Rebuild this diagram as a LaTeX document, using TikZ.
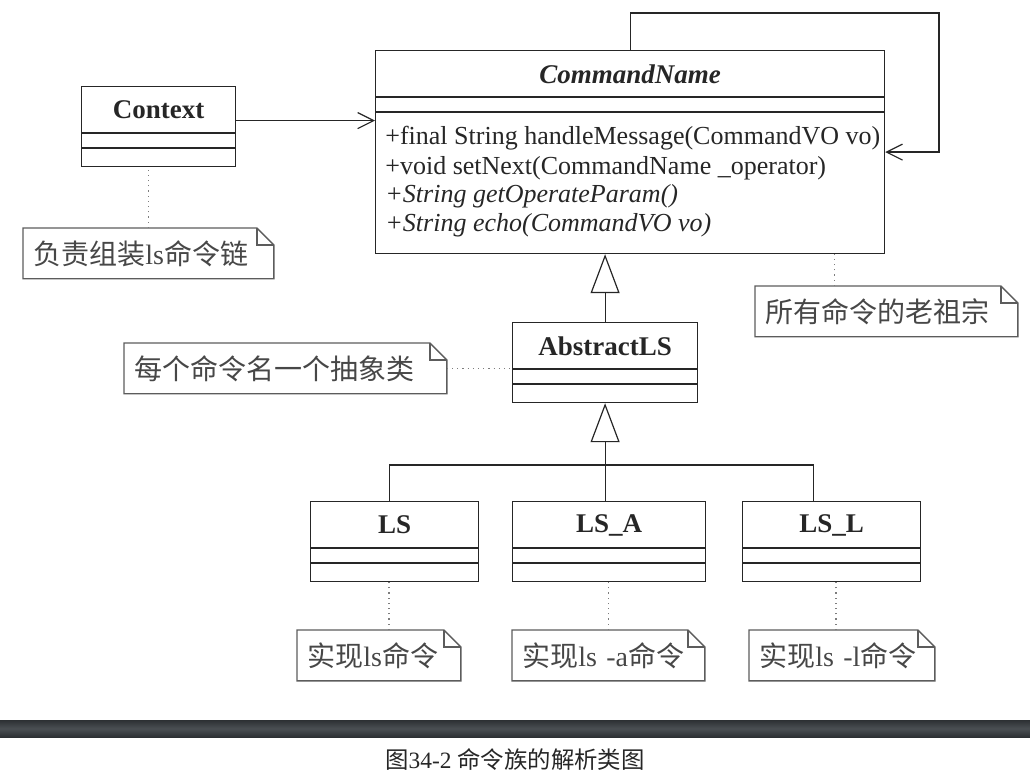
\documentclass[tikz,border=0pt]{standalone}
\usepackage{fontspec}
\setmainfont{Liberation Serif}
\newfontfamily\cjk{Noto Sans CJK SC}
\usetikzlibrary{arrows.meta}

\definecolor{ink}{HTML}{262626}
\definecolor{bandA}{HTML}{2C3033}
\definecolor{bandB}{HTML}{4A4F53}

% two empty compartments under the class name
\newcommand{\compart}[1]{%
  \draw[ink, line width=0.6pt] ([yshift=-23.5pt]#1.north west) -- ([yshift=-23.5pt]#1.north east);
  \draw[ink, line width=0.6pt] ([yshift=-31pt]#1.north west) -- ([yshift=-31pt]#1.north east);}

% note outline with folded corner
\newcommand{\dogear}[1]{%
  \draw[notebox] (#1.north west) -- ([xshift=-8.5pt]#1.north east) -- ([yshift=-8.5pt]#1.north east)
    -- (#1.south east) -- (#1.south west) -- cycle;
  \draw[notebox] ([xshift=-8.5pt]#1.north east) |- ([yshift=-8.5pt]#1.north east);}

\begin{document}
\begin{tikzpicture}[x=0.5pt, y=-0.5pt,
  cls/.style={draw=ink, line width=0.6pt, rectangle, inner sep=0pt, anchor=north west},
  ctitle/.style={font=\fontsize{13.5}{16}\selectfont\bfseries, text=ink},
  meth/.style={font=\fontsize{13}{15}\selectfont, text=ink, anchor=base west, inner sep=0pt},
  note/.style={anchor=north west, inner ysep=0pt, inner xsep=5pt, minimum height=25pt,
    align=left, font=\fontsize{14}{16}\cjk, text=ink!85},
  notebox/.style={draw=ink!75, line width=0.7pt},
  noteline/.style={draw=ink!60, dotted, line width=0.6pt},
  assoc/.style={draw=ink, line width=0.6pt, -{Straight Barb[length=8pt, width=8pt]}},
  gen/.style={draw=ink, line width=0.6pt, -{Triangle[open, length=19.5pt, width=14.5pt]}}]

  \useasboundingbox (0,0) rectangle (1030,781);

  % classes
  \node[cls, minimum width=77pt, minimum height=40pt] (ctx) at (81,86) {};
  \node[cls, minimum width=254.5pt, minimum height=101.5pt] (cmd) at (375,50) {};
  \node[cls, minimum width=92.5pt, minimum height=40pt] (abs) at (512,322) {};
  \node[cls, minimum width=84pt, minimum height=40pt] (ls) at (310,501) {};
  \node[cls, minimum width=96.5pt, minimum height=40pt] (lsa) at (512,501) {};
  \node[cls, minimum width=89pt, minimum height=40pt] (lsl) at (742,501) {};
  \foreach \c in {ctx,cmd,abs,ls,lsa,lsl} {\compart{\c}}

  \node[ctitle] (ctxT) at ([yshift=-12pt]ctx.north) {Context};
  \node[ctitle] (cmdT) at ([yshift=-12pt]cmd.north) {\itshape CommandName};
  \node[ctitle] (absT) at ([yshift=-12pt]abs.north) {AbstractLS};
  \node[ctitle] (lsT) at ([yshift=-12pt]ls.north) {LS};
  \node[ctitle] (lsaT) at ([yshift=-12pt]lsa.north) {LS\_A};
  \node[ctitle] (lslT) at ([yshift=-12pt]lsl.north) {LS\_L};

  % operations
  \node[meth] (m1) at (385,145) {+final String handleMessage(CommandVO vo)};
  \node[meth] (m2) at (385,175) {+void setNext(CommandName \_operator)};
  \node[meth] (m3) at (385,203) {\itshape +String getOperateParam()};
  \node[meth] (m4) at (385,232) {\itshape +String echo(CommandVO vo)};

  % links
  \coordinate (loop) at (939,13);
  \draw[assoc] (cmd.north) |- (loop) |- (cmd.east);
  \coordinate (ctxout) at ([yshift=3pt]ctx.east);
  \draw[assoc] (ctxout) -- (ctxout -| cmd.west);
  \draw[gen] (abs.north) -- (abs.north |- cmd.south);
  \coordinate (bus) at (abs.south |- 0,465);
  \draw[gen] (bus) -- (abs.south);
  \draw[ink, line width=0.6pt] ([xshift=-2.5pt]ls.north) |- (bus) -| ([xshift=-9pt]lsl.north);
  \draw[ink, line width=0.6pt] (bus) -- (bus |- lsa.north);

  % notes
  \node[note, text width=115pt] (n1) at (23,228) {负责组装\textrm{ls}命令链};
  \node[note, text width=121pt] (n2) at (755,286) {所有命令的老祖宗};
  \node[note, text width=151pt] (n3) at (124,343) {每个命令名一个抽象类};
  \node[note, text width=71.5pt] (n4) at (297,630) {实现\textrm{ls}命令};
  \node[note, text width=86pt] (n5) at (512,630) {实现\textrm{ls -a}命令};
  \node[note, text width=82.5pt] (n6) at (749,630) {实现\textrm{ls -l}命令};
  \foreach \n in {n1,n2,n3,n4,n5,n6} {\dogear{\n}}

  \draw[noteline] (n1.north) -- (n1.north |- ctx.south);
  \coordinate (n2top) at ([xshift=-26pt]n2.north);
  \draw[noteline] (n2top) -- (n2top |- cmd.south);
  \draw[noteline] (n3.east) -- (n3.east -| abs.west);
  \coordinate (n4top) at ([xshift=5pt]n4.north);
  \draw[noteline] (n4top) -- (n4top |- ls.south);
  \draw[noteline] (n5.north) -- (n5.north |- lsa.south);
  \coordinate (n6top) at ([xshift=-3pt]n6.north);
  \draw[noteline] (n6top) -- (n6top |- lsl.south);

  % caption bar
  \shade[top color=bandA, bottom color=bandA, middle color=bandB] (0,720) rectangle (1030,737);
  \node[font=\fontsize{11.7}{14}\selectfont, text=ink] (cap) at (515,760) {{\cjk 图}34-2 {\cjk 命令族的解析类图}};
\end{tikzpicture}
\end{document}
